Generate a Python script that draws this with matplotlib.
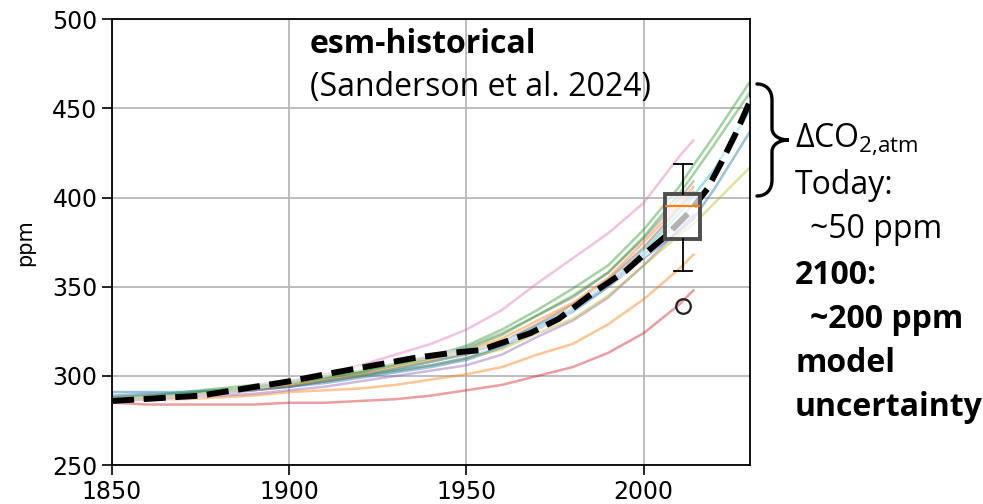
import matplotlib
matplotlib.use("Agg")
import matplotlib.pyplot as plt
from matplotlib.path import Path
from matplotlib.patches import PathPatch

plt.rcParams['mathtext.fontset'] = 'custom'
plt.rcParams['mathtext.rm'] = 'Open Sans'
plt.rcParams['mathtext.bf'] = 'Open Sans:bold'

# model years (historical runs end 2014, some extend to 2030)
YEARS_HIST = [1850, 1860, 1870, 1880, 1890, 1900, 1910, 1920, 1930, 1940,
              1950, 1960, 1970, 1980, 1990, 2000, 2010, 2014]
YEARS_EXT = YEARS_HIST + [2020, 2030]

# one entry per model, in tab10 colour order
blue_a = [289, 290, 290, 291, 292, 294, 296, 299, 302, 305,
          309, 316, 326, 336, 350, 366, 381, 388, 405, 437]
orange_a = [287, 287, 287, 288, 289, 291, 292, 293, 295, 298,
            301, 305, 312, 318, 329, 343, 360, 368]
green_a = [288, 289, 291, 293, 295, 297, 300, 303, 307, 311,
           317, 326, 337, 349, 362, 382, 406, 418, 435, 465]
red_a = [285, 284, 284, 284, 284, 285, 285, 286, 287, 289,
         292, 295, 300, 305, 313, 324, 340, 348]
purple_a = [286, 287, 288, 289, 290, 292, 294, 297, 300, 303,
            306, 312, 322, 331, 344, 362, 382, 390]
brown_a = [286, 287, 288, 290, 292, 294, 297, 300, 304, 308,
           312, 319, 329, 340, 354, 372, 394, 403]
pink_a = [286, 287, 288, 291, 294, 297, 301, 306, 312, 318,
          326, 337, 352, 366, 380, 397, 423, 432]
gray_a = [288, 289, 290, 292, 294, 296, 299, 302, 307, 311,
          316, 324, 334, 344, 358, 377, 399, 409]
olive_a = [287, 288, 289, 291, 293, 295, 297, 300, 303, 306,
           310, 315, 324, 332, 345, 362, 379, 385, 397, 417]
cyan_a = [287, 288, 289, 291, 293, 296, 298, 301, 304, 308,
          313, 319, 328, 338, 352, 370, 391, 401, 416, 449]
blue_b = [291, 291, 291, 292, 293, 294, 297, 300, 303, 306,
          310, 317, 327, 337, 351, 368, 387, 396]
orange_b = [286, 287, 289, 291, 293, 295, 298, 301, 305, 309,
            314, 321, 331, 341, 355, 375, 396, 406]
green_b = [287, 288, 290, 292, 294, 296, 299, 302, 306, 310,
           315, 323, 334, 345, 358, 378, 402, 413, 430, 459]

models = [blue_a, orange_a, green_a, red_a, purple_a, brown_a, pink_a,
          gray_a, olive_a, cyan_a, blue_b, orange_b, green_b]
colors = ['tab:blue', 'tab:orange', 'tab:green', 'tab:red', 'tab:purple',
          'tab:brown', 'tab:pink', 'tab:gray', 'tab:olive', 'tab:cyan',
          'tab:blue', 'tab:orange', 'tab:green']

# black dashed reference curve
mean_years = [1850, 1875, 1900, 1913, 1924, 1935, 1946, 1954, 1968, 1976,
              1986, 1995, 2000, 2006, 2013, 2018, 2022, 2026, 2030]
mean_ppm = [286, 289, 297, 302, 306, 310, 313, 314.5, 324, 332,
            347, 359, 368, 378, 392, 405, 420, 436, 454]

# box plot of model spread
box_pos = 2011
box_stats = dict(whislo=359, q1=377, med=395, q3=402, whishi=419, fliers=[339])

fig = plt.figure(figsize=(9.83, 5.04), dpi=100)
ax = fig.add_axes([0.114, 0.077, 0.649, 0.885])

for vals, c in zip(models, colors):
    yrs = YEARS_EXT if len(vals) == len(YEARS_EXT) else YEARS_HIST
    ax.plot(yrs, vals, color=c, lw=1.8, alpha=0.45, zorder=2)

ax.plot(mean_years, mean_ppm, color='white', lw=4.3, alpha=0.5, zorder=3)
ax.plot(mean_years, mean_ppm, color='black', lw=4.3, ls='--', zorder=4)

ax.bxp([box_stats], positions=[box_pos], widths=10, patch_artist=True,
       boxprops=dict(facecolor=(1, 1, 1, 0.7), edgecolor='#4d4d4d', linewidth=2.8),
       medianprops=dict(color='tab:orange', linewidth=1.5),
       whiskerprops=dict(color='black', linewidth=1.3),
       capprops=dict(color='black', linewidth=1.3),
       flierprops=dict(marker='o', markerfacecolor='none', markeredgecolor='#222222',
                       markersize=10.5, markeredgewidth=1.6),
       zorder=5)

ax.set_xlim(1850, 2030)
ax.set_ylim(250, 500)
ax.set_xticks([1850, 1900, 1950, 2000])
ax.set_xticklabels(['1850', '1900', '1950', '2000'])
ax.set_yticks([250, 300, 350, 400, 450, 500])
ax.tick_params(labelsize=17, length=7, width=1.2, colors='black')
ax.grid(True, color='#b8b8b8', lw=1.3)
ax.set_axisbelow(True)
for s in ax.spines.values():
    s.set_linewidth(1.3)
ax.set_ylabel('ppm', fontsize=15, labelpad=12)

fig.text(0.315, 0.912, 'esm-historical', fontsize=23, fontweight='bold',
         family='Open Sans', va='center', ha='left')
fig.text(0.315, 0.826, '(Sanderson et al. 2024)', fontsize=23,
         family='Open Sans', va='center', ha='left')

# curly brace next to the axes
px = [(757, 84), (766, 84), (772, 90), (772, 100),
      (772, 128),
      (772, 136), (780, 140), (789, 140),
      (780, 140), (772, 144), (772, 152),
      (772, 180),
      (772, 190), (766, 196), (757, 196)]
codes = [Path.MOVETO, Path.CURVE4, Path.CURVE4, Path.CURVE4,
         Path.LINETO,
         Path.CURVE4, Path.CURVE4, Path.CURVE4,
         Path.CURVE4, Path.CURVE4, Path.CURVE4,
         Path.LINETO,
         Path.CURVE4, Path.CURVE4, Path.CURVE4]
verts = [(x / 983, 1 - y / 504) for x, y in px]
fig.add_artist(PathPatch(Path(verts, codes), fill=False, lw=2.4,
                         edgecolor='black', transform=fig.transFigure,
                         capstyle='round'))

side = [(795, 140, r'ΔCO$_\mathrm{2{,}atm}$', 'normal'),
        (795, 185, 'Today:', 'normal'),
        (810, 230, '~50 ppm', 'normal'),
        (795, 275, '2100:', 'bold'),
        (810, 320, '~200 ppm', 'bold'),
        (795, 363, 'model', 'bold'),
        (795, 408, 'uncertainty', 'bold')]
for x, y, txt, w in side:
    fig.text(x / 983, 1 - y / 504, txt, fontsize=23, fontweight=w,
             family='Open Sans', va='center', ha='left')

fig.savefig('out.png', dpi=100)
